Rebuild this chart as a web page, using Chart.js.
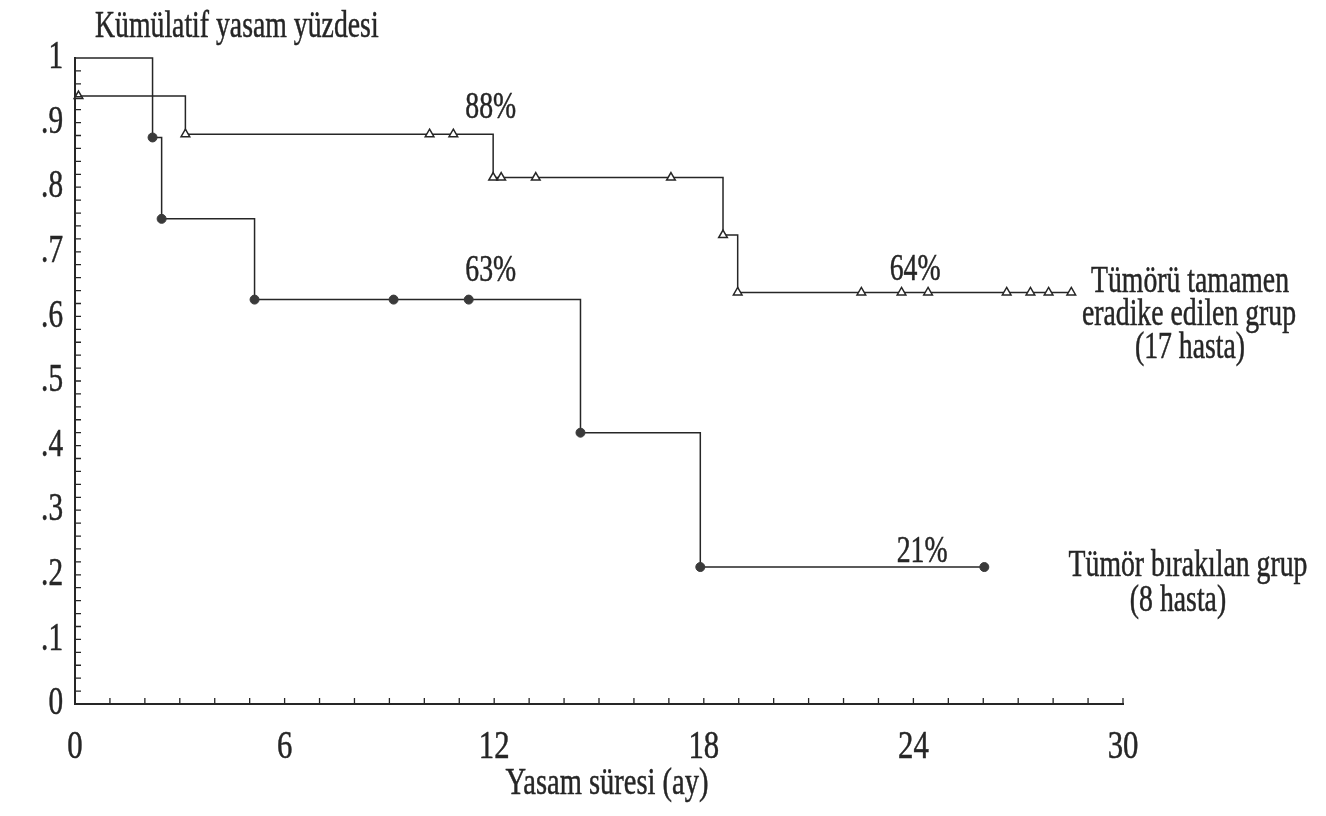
<!DOCTYPE html>
<html>
<head>
<meta charset="utf-8">
<script src="https://cdn.jsdelivr.net/npm/chart.js@4.4.1/dist/chart.umd.min.js"></script>
<style>
  html, body { margin: 0; padding: 0; background: #fff; }
  #wrap { width: 1326px; height: 816px; }
</style>
</head>
<body>
<div id="wrap"><canvas id="km-chart" width="1326" height="816"></canvas></div>
<script>
// tick labels
const xTickValues = [0, 6, 12, 18, 24, 30];
const xTickLabels = ['0', '6', '12', '18', '24', '30'];
const yTickValues = [0, 0.1, 0.2, 0.3, 0.4, 0.5, 0.6, 0.7, 0.8, 0.9, 1];
const yTickLabels = ['0', '.1', '.2', '.3', '.4', '.5', '.6', '.7', '.8', '.9', '1'];

// Tümör bırakılan grup (8 hasta) - filled circles
const residualMonths = [0, 2.22, 2.48, 5.14, 9.12, 11.27, 14.47, 17.9, 26.03];
const residualSurvival = [1, 0.877, 0.751, 0.626, 0.626, 0.626, 0.42, 0.212, 0.212];

// Tümörü tamamen eradike edilen grup (17 hasta) - open triangles
// (first drop 1 -> .94 happens right on the y axis)
const eradicatedMonths = [0, 0.1, 3.16, 10.15, 10.83, 11.97, 12.2, 13.19, 17.06,
  18.55, 18.97, 22.51, 23.66, 24.42, 26.67, 27.35, 27.87, 28.52];
const eradicatedSurvival = [0.941, 0.941, 0.882, 0.882, 0.882, 0.815, 0.815, 0.815, 0.815,
  0.726, 0.637, 0.637, 0.637, 0.637, 0.637, 0.637, 0.637, 0.637];

// percentage labels, anchored on the curves
const pctLabels = [
  { text: '88%', x: 11.9, y: 0.882, dy: -26 },
  { text: '63%', x: 11.9, y: 0.626, dy: -28 },
  { text: '64%', x: 24.05, y: 0.637, dy: -22 },
  { text: '21%', x: 24.25, y: 0.212, dy: -15 },
];

const INK = '#262626';
const FONT = '"Liberation Serif", "Times New Roman", serif';
const SX = 0.75; // the scan uses a narrow serif face

function toPoints(xs, ys) {
  return xs.map((x, i) => ({ x: x, y: ys[i] }));
}

function drawText(ctx, text, x, y, size, align) {
  ctx.save();
  ctx.translate(x, y);
  ctx.scale(SX, 1);
  ctx.font = size + 'px ' + FONT;
  ctx.fillStyle = INK;
  ctx.strokeStyle = INK;
  ctx.lineWidth = 0.5;
  ctx.textAlign = align || 'center';
  ctx.textBaseline = 'middle';
  ctx.fillText(text, 0, 0);
  ctx.strokeText(text, 0, 0);
  ctx.restore();
}

const axisDecor = {
  id: 'axisDecor',
  afterDraw(chart) {
    const ctx = chart.ctx;
    const xs = chart.scales.x;
    const ys = chart.scales.y;
    const x0 = xs.getPixelForValue(0);
    const y0 = ys.getPixelForValue(0);

    // inward minor ticks
    ctx.save();
    ctx.strokeStyle = INK;
    ctx.lineWidth = 1.3;
    ctx.beginPath();
    for (let m = 1; m <= 30; m++) {
      const px = xs.getPixelForValue(m);
      ctx.moveTo(px, y0);
      ctx.lineTo(px, y0 - 6);
    }
    for (let k = 1; k < 50; k++) {
      const py = ys.getPixelForValue(k * 0.02);
      ctx.moveTo(x0, py);
      ctx.lineTo(x0 + 6, py);
    }
    ctx.stroke();
    ctx.restore();

    // tick labels
    xTickValues.forEach((v, i) => {
      drawText(ctx, xTickLabels[i], xs.getPixelForValue(v), y0 + 43, 41, 'center');
    });
    yTickValues.forEach((v, i) => {
      drawText(ctx, yTickLabels[i], x0 - 12, ys.getPixelForValue(v), 39, 'right');
    });

    // axis titles
    drawText(ctx, 'Kümülatif yasam yüzdesi', 95, 27, 37, 'left');
    drawText(ctx, 'Yasam süresi (ay)', 607, 784, 38, 'center');

    // percentages
    pctLabels.forEach((l) => {
      drawText(ctx, l.text, xs.getPixelForValue(l.x), ys.getPixelForValue(l.y) + l.dy, 37, 'center');
    });

    // group names
    drawText(ctx, 'Tümörü tamamen', 1190, 282, 37, 'center');
    drawText(ctx, 'eradike edilen grup', 1189, 315, 37, 'center');
    drawText(ctx, '(17 hasta)', 1190, 348, 37, 'center');
    drawText(ctx, 'Tümör bırakılan grup', 1188, 566, 37, 'center');
    drawText(ctx, '(8 hasta)', 1178, 601, 37, 'center');
  },
};

function markerRadius(n, r) {
  return Array.from({ length: n }, (_, i) => (i === 0 ? 0 : r));
}

function createChart() {
  const ctx = document.getElementById('km-chart').getContext('2d');
  new Chart(ctx, {
    type: 'line',
    data: {
      datasets: [
        {
          label: 'Tümörü tamamen eradike edilen grup',
          data: toPoints(eradicatedMonths, eradicatedSurvival),
          stepped: 'before',
          borderColor: INK,
          borderWidth: 1.5,
          pointStyle: 'triangle',
          pointRadius: markerRadius(eradicatedMonths.length, 5),
          pointBackgroundColor: '#fff',
          pointBorderColor: INK,
          pointBorderWidth: 1.5,
          clip: false,
        },
        {
          label: 'Tümör bırakılan grup',
          data: toPoints(residualMonths, residualSurvival),
          stepped: 'before',
          borderColor: INK,
          borderWidth: 1.5,
          pointStyle: 'circle',
          pointRadius: markerRadius(residualMonths.length, 4.5),
          pointBackgroundColor: '#3a3a3a',
          pointBorderColor: '#3a3a3a',
          pointBorderWidth: 1,
          clip: false,
        },
      ],
    },
    options: {
      responsive: false,
      animation: false,
      layout: {
        padding: { left: 75, top: 58, right: 203, bottom: 112 },
      },
      scales: {
        x: {
          type: 'linear',
          min: 0,
          max: 30,
          ticks: { display: false, stepSize: 6 },
          grid: { display: true, drawOnChartArea: false, drawTicks: false },
          border: { display: true, color: INK, width: 2 },
        },
        y: {
          min: 0,
          max: 1,
          ticks: { display: false, stepSize: 0.1 },
          grid: { display: true, drawOnChartArea: false, drawTicks: false },
          border: { display: true, color: INK, width: 2 },
        },
      },
      plugins: {
        legend: { display: false },
        tooltip: { enabled: false },
      },
    },
    plugins: [axisDecor],
  });
}

createChart();
</script>
</body>
</html>
